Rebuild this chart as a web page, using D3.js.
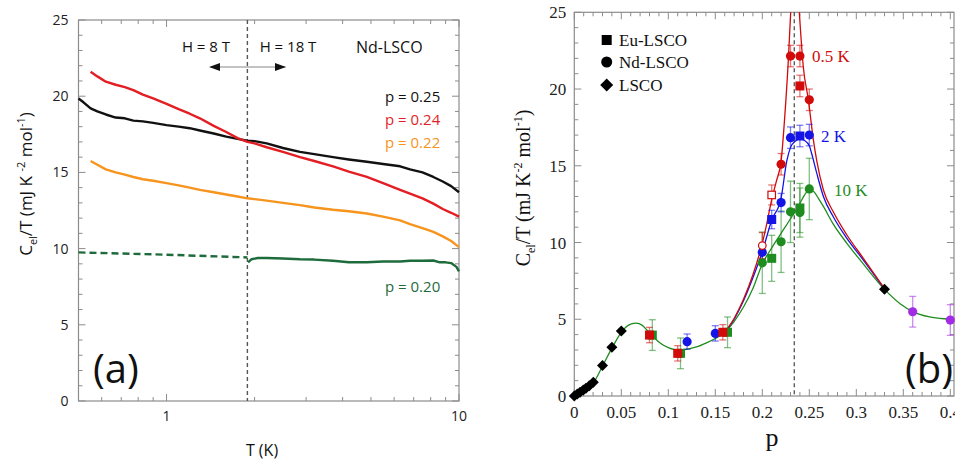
<!DOCTYPE html>
<html><head><meta charset="utf-8">
<script src="https://cdn.jsdelivr.net/npm/d3@7"></script>
<style>body{margin:0;background:#fff}svg{display:block}</style>
</head><body>
<svg id="c" width="955" height="463"></svg>
<script>
// ---------- Panel (a) data ----------
const p25T = [0.50,0.52,0.55,0.58,0.62,0.67,0.72,0.77,0.83,0.9,1.0,1.1,1.2,1.3,1.45,1.6,1.75,1.89,2.0,2.2,2.5,2.86,3.2,3.71,4.2,4.84,5.5,6.29,6.8,7.5,8.17,8.8,9.4,10];
const p25V = [19.85,19.6,19.2,19.0,18.8,18.6,18.55,18.4,18.35,18.25,18.1,18.0,17.9,17.75,17.55,17.35,17.2,17.08,17.05,16.9,16.6,16.35,16.2,16.0,15.85,15.7,15.55,15.4,15.2,15.0,14.7,14.4,14.1,13.7];
const p24T = [0.55,0.58,0.62,0.67,0.72,0.77,0.83,0.9,1.0,1.1,1.2,1.3,1.45,1.6,1.75,1.89,2.0,2.2,2.5,2.86,3.2,3.71,4.2,4.84,5.5,6.29,6.8,7.5,8.17,8.8,9.4,10];
const p24V = [21.6,21.3,20.95,20.75,20.6,20.4,20.1,19.85,19.5,19.15,18.85,18.55,18.05,17.65,17.25,17.0,16.9,16.65,16.35,16.0,15.75,15.4,15.05,14.7,14.3,13.85,13.6,13.3,12.95,12.6,12.35,12.1];
const p22T = p24T;
const p22V = [15.75,15.5,15.2,15.0,14.85,14.7,14.55,14.45,14.3,14.15,14.0,13.85,13.7,13.55,13.42,13.3,13.25,13.15,13.0,12.85,12.7,12.55,12.45,12.3,12.1,11.85,11.6,11.35,11.1,10.8,10.5,10.1];
const p20T = [1.9,1.95,2.05,2.2,2.5,2.86,3.2,3.71,4.2,4.84,5.5,6.29,6.8,7.5,8.17,8.6,9.0,9.4,9.8,10];
const p20V = [9.1,9.3,9.38,9.38,9.35,9.3,9.28,9.2,9.1,9.1,9.15,9.15,9.2,9.2,9.22,9.1,9.1,9.05,8.8,8.5];
const p20dashT = [0.5,1.0,1.89];
const p20dashV = [9.75,9.6,9.42];
const fieldBoundaryT = 1.89;
const aYTicks = [0,5,10,15,20,25];
const aXTickLabels = [1,10];

// ---------- Panel (b) data ----------
const curve05P = [0.16,0.17,0.18,0.19,0.2,0.205,0.21,0.215,0.22,0.224,0.2277,0.2302,0.2348,0.2394,0.2436,0.249,0.2543,0.258,0.265,0.2755,0.29,0.3075,0.33];
const curve05V = [4.15,5.05,6.3,7.9,9.95,11.3,12.8,14.0,15.3,18.3,21.9,25.0,30.0,25.0,21.45,19.3,16.7,15.3,13.42,12.0,10.49,8.97,7.0];
const curve2P = [0.16,0.17,0.18,0.19,0.2,0.21,0.22,0.226,0.23,0.235,0.24,0.245,0.25,0.2525,0.258,0.265,0.2755,0.29,0.3075,0.33];
const curve2V = [4.15,5.0,6.2,7.7,9.4,11.45,12.9,15.3,16.2,16.6,16.75,16.65,16.3,15.8,14.5,13.0,11.68,10.27,8.86,6.98];
const curve10P = [0,0.005,0.01,0.015,0.02,0.03,0.04,0.05,0.055,0.06,0.066,0.072,0.078,0.085,0.092,0.1,0.107,0.113,0.12,0.13,0.14,0.15,0.16,0.17,0.18,0.19,0.2,0.21,0.22,0.23,0.24,0.245,0.25,0.255,0.26,0.265,0.275,0.29,0.307,0.33,0.347,0.36,0.378,0.4,0.405];
const curve10V = [0,0.15,0.38,0.62,0.85,1.95,3.12,4.15,4.5,4.68,4.75,4.62,4.25,3.8,3.42,3.15,3.02,3.0,3.05,3.2,3.45,3.75,4.15,4.85,5.8,7.0,8.6,9.65,10.6,11.55,12.55,13.1,13.45,13.3,12.85,12.35,11.25,9.95,8.64,6.95,6.0,5.5,5.15,5.0,4.97];

// points: [p, value, error]
const redCircles = [[0.23,22.15,0.7],[0.24,22.15,0.7],[0.25,19.3,0.7],[0.22,15.1,0.7]];
const redSquares = [[0.24,20.2,0.7],[0.08,3.97,0.5],[0.11,2.78,0.5],[0.158,4.15,0.5]];
const redOpenSquares = [[0.21,13.1,0.65]];
const redOpenCircles = [[0.20,9.8,0.85]];
const blueCircles = [[0.23,16.83,0.7],[0.25,17.0,0.7],[0.22,12.6,0.6],[0.20,9.36,0.5],[0.12,3.54,0.5],[0.15,4.08,0.5]];
const blueSquares = [[0.24,16.94,0.7],[0.21,11.5,0.6]];
const greenCircles = [[0.25,13.49,2.0],[0.23,12.0,2.0],[0.22,10.05,2.0],[0.20,8.68,2.0],[0.24,11.95,1.6]];
const greenSquares = [[0.24,12.25,1.6],[0.21,8.97,1.5],[0.163,4.15,1.0],[0.113,2.78,1.0],[0.083,3.97,1.0]];
const purpleCircles = [[0.36,5.49,1.0],[0.40,4.95,1.0]];
const lscoDiamonds = [[0,0],[0.0032,0.13],[0.0061,0.24],[0.0096,0.39],[0.0124,0.5],[0.016,0.67],[0.0202,0.89],[0.03,1.98],[0.04,3.17],[0.05,4.23],[0.33,6.95]];
const pStar = 0.234;
const bXTicks = [0,0.05,0.1,0.15,0.2,0.25,0.3,0.35,0.4];
const bYTicks = [0,5,10,15,20,25];

const svg = d3.select("#c");
const AX = "#8c8c8c";
const sans = "'Open Sans', 'Liberation Sans', sans-serif";
const serif = "'Liberation Serif', 'DejaVu Serif', serif";

// ================= Panel (a) =================
const ax = d3.scaleLog().domain([0.5,10]).range([78.5,459]);
const ay = d3.scaleLinear().domain([0,25]).range([401,20]);
const ga = svg.append("g");
ga.append("rect").attr("x",ax(0.5)).attr("y",ay(25)).attr("width",ax(10)-ax(0.5)).attr("height",ay(0)-ay(25))
  .attr("fill","none").attr("stroke",AX).attr("stroke-width",1.2);
const aMinorX = [0.6,0.7,0.8,0.9,2,3,4,5,6,7,8,9];
aMinorX.forEach(t=>{
  ga.append("line").attr("x1",ax(t)).attr("x2",ax(t)).attr("y1",ay(0)).attr("y2",ay(0)-4).attr("stroke",AX);
  ga.append("line").attr("x1",ax(t)).attr("x2",ax(t)).attr("y1",ay(25)).attr("y2",ay(25)+4).attr("stroke",AX);
});
aXTickLabels.forEach(t=>{
  ga.append("line").attr("x1",ax(t)).attr("x2",ax(t)).attr("y1",ay(0)).attr("y2",ay(0)-7).attr("stroke",AX);
  ga.append("line").attr("x1",ax(t)).attr("x2",ax(t)).attr("y1",ay(25)).attr("y2",ay(25)+7).attr("stroke",AX);
  ga.append("text").attr("x",ax(t)).attr("y",ay(0)+20).attr("text-anchor","middle")
    .attr("font-family",sans).attr("font-size",14).attr("fill","#222").text(t);
});
d3.range(0,26,1).forEach(v=>{
  const L = (v%5===0)?7:4;
  ga.append("line").attr("x1",ax(0.5)).attr("x2",ax(0.5)+L).attr("y1",ay(v)).attr("y2",ay(v)).attr("stroke",AX);
  ga.append("line").attr("x1",ax(10)).attr("x2",ax(10)-L).attr("y1",ay(v)).attr("y2",ay(v)).attr("stroke",AX);
});
aYTicks.forEach(v=>{
  ga.append("text").attr("x",ax(0.5)-10).attr("y",ay(v)+5).attr("text-anchor","end")
    .attr("font-family",sans).attr("font-size",14).attr("fill","#222").text(v);
});
// vertical dashed line
ga.append("line").attr("x1",ax(fieldBoundaryT)).attr("x2",ax(fieldBoundaryT)).attr("y1",ay(25)).attr("y2",ay(0))
  .attr("stroke","#555").attr("stroke-width",1.4).attr("stroke-dasharray","4,3");
const lineA = d3.line().x(d=>ax(d[0])).y(d=>ay(d[1]));
function series(T,V,color,dash){
  ga.append("path").datum(T.map((t,i)=>[t,V[i]])).attr("d",lineA).attr("fill","none")
    .attr("stroke",color).attr("stroke-width",2.4).attr("stroke-linejoin","round")
    .attr("stroke-dasharray",dash||null);
}
series(p22T,p22V,"#f7941d");
series(p25T,p25V,"#111111");
series(p24T,p24V,"#e31e24");
series(p20T,p20V,"#1e6b3c");
series(p20dashT,p20dashV,"#1e6b3c","7,4");
// arrow
const ay0 = 67;
ga.append("line").attr("x1",ax(1.42)).attr("x2",ax(2.55)).attr("y1",ay0).attr("y2",ay0).attr("stroke","#888").attr("stroke-width",1.2);
const xl = 209, xr = 286;
ga.append("path").attr("d",`M${xl},${ay0} L${xl+11},${ay0-4} L${xl+11},${ay0+4} Z`).attr("fill","#111");
ga.append("path").attr("d",`M${xr},${ay0} L${xr-11},${ay0-4} L${xr-11},${ay0+4} Z`).attr("fill","#111");
function txt(g,x,y,s,opts){
  const t = g.append("text").attr("x",x).attr("y",y).text(s)
    .attr("font-family",opts.font||sans).attr("font-size",opts.size||15).attr("fill",opts.color||"#111")
    .attr("text-anchor",opts.anchor||"start");
  return t;
}
txt(ga,206,52,"H = 8 T",{anchor:"middle",size:15});
txt(ga,288,52,"H = 18 T",{anchor:"middle",size:15});
txt(ga,356,53,"Nd-LSCO",{size:16});
txt(ga,385,102,"p = 0.25",{size:15,color:"#111"});
txt(ga,385,125,"p = 0.24",{size:15,color:"#e31e24"});
txt(ga,385,148,"p = 0.22",{size:15,color:"#f7941d"});
txt(ga,385,292,"p = 0.20",{size:15,color:"#1e6b3c"});
txt(ga,93,383,"(a)",{size:40});
txt(ga,262,456,"T (K)",{anchor:"middle",size:16});
// y label (a)
const yla = ga.append("text").attr("transform","translate(32,184) rotate(-90)").attr("text-anchor","middle")
  .attr("font-family",sans).attr("font-size",17).attr("fill","#111");
yla.append("tspan").text("C");
yla.append("tspan").attr("font-size",11).attr("dy",5).text("el");
yla.append("tspan").attr("dy",-5).text("/T (mJ K  ");
yla.append("tspan").attr("font-size",11).attr("dy",-7).text("-2");
yla.append("tspan").attr("dy",7).text("  mol");
yla.append("tspan").attr("font-size",11).attr("dy",-7).text("-1");
yla.append("tspan").attr("dy",7).text(")");

// ================= Panel (b) =================
const bx = d3.scaleLinear().domain([0,0.4]).range([574.3,950.3]);
const by = d3.scaleLinear().domain([0,25]).range([396,12.3]);
const gb = svg.append("g");
const bRight = 954;
gb.append("rect").attr("x",bx(0)).attr("y",by(25)).attr("width",bRight-bx(0)).attr("height",by(0)-by(25))
  .attr("fill","none").attr("stroke",AX).attr("stroke-width",1.2);
d3.range(0,41).forEach(i=>{
  const p = i/100; const L = (i%5===0)?7:4;
  gb.append("line").attr("x1",bx(p)).attr("x2",bx(p)).attr("y1",by(0)).attr("y2",by(0)-L).attr("stroke",AX);
  gb.append("line").attr("x1",bx(p)).attr("x2",bx(p)).attr("y1",by(25)).attr("y2",by(25)+L).attr("stroke",AX);
});
d3.range(0,26).forEach(v=>{
  const L = (v%5===0)?7:4;
  gb.append("line").attr("x1",bx(0)).attr("x2",bx(0)+L).attr("y1",by(v)).attr("y2",by(v)).attr("stroke",AX);
  gb.append("line").attr("x1",bRight).attr("x2",bRight-L).attr("y1",by(v)).attr("y2",by(v)).attr("stroke",AX);
});
bXTicks.forEach(p=>{
  gb.append("text").attr("x",bx(p)).attr("y",by(0)+22).attr("text-anchor","middle")
    .attr("font-family",serif).attr("font-size",17).attr("fill","#222").text(d3.format("~g")(p));
});
bYTicks.forEach(v=>{
  gb.append("text").attr("x",bx(0)-8).attr("y",by(v)+6).attr("text-anchor","end")
    .attr("font-family",serif).attr("font-size",17).attr("fill","#222").text(v);
});
gb.append("line").attr("x1",bx(pStar)).attr("x2",bx(pStar)).attr("y1",by(25)).attr("y2",by(0))
  .attr("stroke","#444").attr("stroke-width",1.2).attr("stroke-dasharray","4,3");
gb.append("clipPath").attr("id","clipb").append("rect").attr("x",bx(0)).attr("y",by(25)).attr("width",bRight-bx(0)).attr("height",by(0)-by(25));
const lineB = d3.line().x(d=>bx(d[0])).y(d=>by(d[1])).curve(d3.curveMonotoneX);
const RED="#d10a0a", BLUE="#1414e6", GREEN="#1f8c1f", PURPLE="#a22be6";
function curveB(P,V,color){
  gb.append("path").datum(P.map((p,i)=>[p,V[i]])).attr("d",lineB).attr("fill","none")
    .attr("stroke",color).attr("stroke-width",1.3).attr("clip-path","url(#clipb)");
}
curveB(curve10P,curve10V,GREEN);
curveB(curve2P,curve2V,BLUE);
curveB(curve05P,curve05V,RED);
function errs(pts,color){
  pts.forEach(d=>{
    const x = bx(d[0]);
    const g = gb.append("g").attr("stroke",color).attr("stroke-opacity",0.55).attr("stroke-width",1.3);
    g.append("line").attr("x1",x).attr("x2",x).attr("y1",by(d[1]-d[2])).attr("y2",by(d[1]+d[2]));
    g.append("line").attr("x1",x-3.5).attr("x2",x+3.5).attr("y1",by(d[1]-d[2])).attr("y2",by(d[1]-d[2]));
    g.append("line").attr("x1",x-3.5).attr("x2",x+3.5).attr("y1",by(d[1]+d[2])).attr("y2",by(d[1]+d[2]));
  });
}
function circles(pts,color,open){
  pts.forEach(d=>gb.append("circle").attr("cx",bx(d[0])).attr("cy",by(d[1])).attr("r",open?3.8:4.6)
    .attr("fill",open?"#fff":color).attr("stroke",color).attr("stroke-width",open?1.2:0));
}
function squares(pts,color,open){
  const s = open?7.5:9;
  pts.forEach(d=>gb.append("rect").attr("x",bx(d[0])-s/2).attr("y",by(d[1])-s/2).attr("width",s).attr("height",s)
    .attr("fill",open?"#fff":color).attr("stroke",color).attr("stroke-width",open?1.2:0));
}
function diamonds(pts,color){
  pts.forEach(d=>{const x=bx(d[0]), y=by(d[1]), r=5.5;
    gb.append("path").attr("d",`M${x},${y-r} L${x+r},${y} L${x},${y+r} L${x-r},${y} Z`).attr("fill",color);});
}
errs(greenCircles,GREEN); errs(greenSquares,GREEN);
errs(blueCircles,BLUE); errs(blueSquares,BLUE);
errs(redCircles,RED); errs(redSquares,RED); errs(redOpenSquares,RED); errs(redOpenCircles,RED);
errs(purpleCircles,PURPLE);
circles(greenCircles,GREEN); squares(greenSquares,GREEN);
circles(blueCircles,BLUE); squares(blueSquares,BLUE);
circles(redCircles,RED); squares(redSquares,RED);
squares(redOpenSquares,RED,true); circles(redOpenCircles,RED,true);
circles(purpleCircles,PURPLE);
diamonds(lscoDiamonds,"#000");

// legend
const lgX = 606.7;
gb.append("rect").attr("x",lgX-5).attr("y",40-5).attr("width",10).attr("height",10).attr("fill","#000");
gb.append("circle").attr("cx",lgX).attr("cy",62).attr("r",5.5).attr("fill","#000");
gb.append("path").attr("d",`M${lgX},${85-6.5} L${lgX+6.5},85 L${lgX},${85+6.5} L${lgX-6.5},85 Z`).attr("fill","#000");
txt(gb,619,46,"Eu-LSCO",{font:serif,size:17});
txt(gb,619,68,"Nd-LSCO",{font:serif,size:17});
txt(gb,619,91,"LSCO",{font:serif,size:17});
txt(gb,812,62,"0.5 K",{font:serif,size:17,color:RED});
txt(gb,821,142,"2 K",{font:serif,size:17,color:BLUE});
txt(gb,834,196,"10 K",{font:serif,size:17,color:GREEN});
txt(gb,905,383,"(b)",{size:40});
txt(gb,772,446,"p",{font:serif,size:26,anchor:"middle"});
const ylb = gb.append("text").attr("transform","translate(530,188) rotate(-90)").attr("text-anchor","middle")
  .attr("font-family",serif).attr("font-size",20).attr("fill","#111");
ylb.append("tspan").text("C");
ylb.append("tspan").attr("font-size",12).attr("dy",5).text("el");
ylb.append("tspan").attr("dy",-5).text("/T  (mJ K");
ylb.append("tspan").attr("font-size",12).attr("dy",-8).text("-2");
ylb.append("tspan").attr("dy",8).text(" mol");
ylb.append("tspan").attr("font-size",12).attr("dy",-8).text("-1");
ylb.append("tspan").attr("dy",8).text(")");
</script>
</body></html>
